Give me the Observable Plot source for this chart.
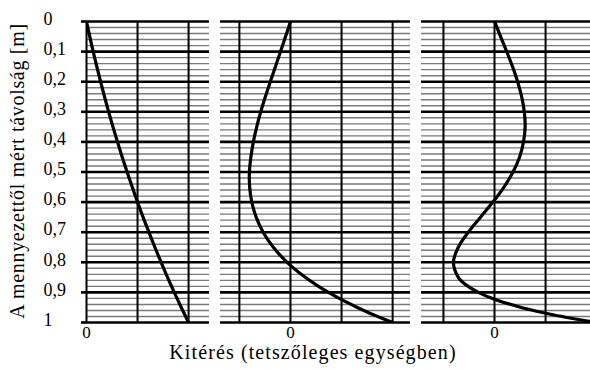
<!DOCTYPE html>
<html>
<head>
<meta charset="utf-8">
<script src="https://cdn.jsdelivr.net/npm/d3@7"></script>
<script src="https://cdn.jsdelivr.net/npm/@observablehq/plot@0.6"></script>
<style>
  body { margin: 0; background: #fff; }
  #wrap { position: relative; width: 590px; height: 369px; overflow: hidden; font-family: "Liberation Serif", serif; color: #000; }
  #ylab { position: absolute; left: 17px; top: 171px; transform: translate(-50%, -50%) rotate(-90deg); white-space: nowrap; font-size: 20px; letter-spacing: 0.7px; line-height: 20px; }
  #xlab { position: absolute; left: 313px; top: 342px; transform: translateX(-50%); white-space: nowrap; font-size: 20px; letter-spacing: 1.1px; line-height: 20px; }
</style>
</head>
<body>
<div id="wrap">
  <div id="ylab">A mennyezettől mért távolság [m]</div>
  <div id="xlab">Kitérés (tetszőleges egységben)</div>
</div>
<script>
// Distance from the ceiling (m)
const depth = [0, 0.05, 0.1, 0.15, 0.2, 0.25, 0.3, 0.35, 0.4, 0.45, 0.5, 0.55, 0.6, 0.65, 0.7, 0.75, 0.8, 0.85, 0.875, 0.9, 0.925, 0.95, 0.9625, 0.975, 0.985, 0.99, 0.995, 1];
// Displacement (arbitrary units), one series per panel
const mode1 = [0, 0.064, 0.131, 0.202, 0.276, 0.353, 0.434, 0.518, 0.607, 0.699, 0.795, 0.896, 1.0, 1.108, 1.222, 1.340, 1.462, 1.588, 1.654, 1.720, 1.788, 1.857, 1.892, 1.928, 1.957, 1.971, 1.986, 2.0];
const mode2 = [0, -0.096, -0.195, -0.295, -0.395, -0.492, -0.582, -0.661, -0.727, -0.775, -0.804, -0.799, -0.757, -0.672, -0.535, -0.336, -0.065, 0.290, 0.503, 0.744, 1.010, 1.308, 1.467, 1.636, 1.777, 1.849, 1.924, 2.0];
const mode3 = [0, 0.119, 0.239, 0.353, 0.453, 0.532, 0.583, 0.600, 0.568, 0.492, 0.362, 0.186, -0.032, -0.274, -0.514, -0.710, -0.804, -0.709, -0.559, -0.316, 0.037, 0.523, 0.824, 1.168, 1.476, 1.642, 1.816, 2.0];

// Tick labels
const yTicks = [0, 0.1, 0.2, 0.3, 0.4, 0.5, 0.6, 0.7, 0.8, 0.9, 1];
const yTickLabels = ["0", "0,1", "0,2", "0,3", "0,4", "0,5", "0,6", "0,7", "0,8", "0,9", "1"];
const xTickLabels = ["0"];

const minor = d3.range(0, 51).map(i => i / 50).filter((v, i) => i % 5 !== 0);

const wrap = document.getElementById("wrap");
const FONT = "'Liberation Serif', serif";

function panel({series, xDomain, gridX, left, width, marginLeft, yAxis}) {
  const data = depth.map((d, i) => ({d, v: series[i]}));
  const marks = [
    Plot.ruleY(minor, {stroke: "#7a7a7a", strokeWidth: 1.4}),
    Plot.ruleX(gridX, {stroke: "#000", strokeWidth: 2}),
    Plot.ruleY(yTicks, {stroke: "#000", strokeWidth: 2.6}),
    Plot.line(data, {x: "v", y: "d", curve: "catmull-rom", stroke: "#000", strokeWidth: 3.2, clip: true}),
    Plot.axisX([0], {tickSize: 0, tickPadding: 3, tickFormat: () => xTickLabels[0], fontSize: 17, label: null})
  ];
  if (yAxis) {
    marks.push(Plot.axisY(yTicks, {tickSize: 5, strokeWidth: 2.6, tickFormat: () => "", label: null}));
    marks.push(Plot.axisY(yTicks, {
      tickSize: 0, tickPadding: 0,
      textAnchor: "start", dx: -43, dy: -2.5, fontSize: 18, label: null,
      tickFormat: d => yTickLabels[yTicks.indexOf(d)]
    }));
  }
  const svg = Plot.plot({
    width, height: 369,
    marginTop: 21, marginBottom: 47, marginLeft, marginRight: 0,
    x: {domain: xDomain, label: null},
    y: {domain: [0, 1], reverse: true, label: null, axis: yAxis ? undefined : null},
    style: {fontFamily: FONT, fontSize: "18px", background: "transparent", overflow: "visible", color: "#000"},
    marks
  });
  svg.style.position = "absolute";
  svg.style.left = left + "px";
  svg.style.top = "0px";
  svg.style.maxWidth = "none";
  wrap.appendChild(svg);
}

panel({series: mode1, xDomain: [0, 2.41], gridX: [0, 1, 2], left: 0, width: 209, marginLeft: 86, yAxis: true});
panel({series: mode2, xDomain: [-1.37, 2.35], gridX: [-1, 0, 1, 2], left: 220, width: 190, marginLeft: 0, yAxis: false});
panel({series: mode3, xDomain: [-1.43, 1.88], gridX: [-1, 0, 1], left: 421, width: 169, marginLeft: 0, yAxis: false});
</script>
</body>
</html>
